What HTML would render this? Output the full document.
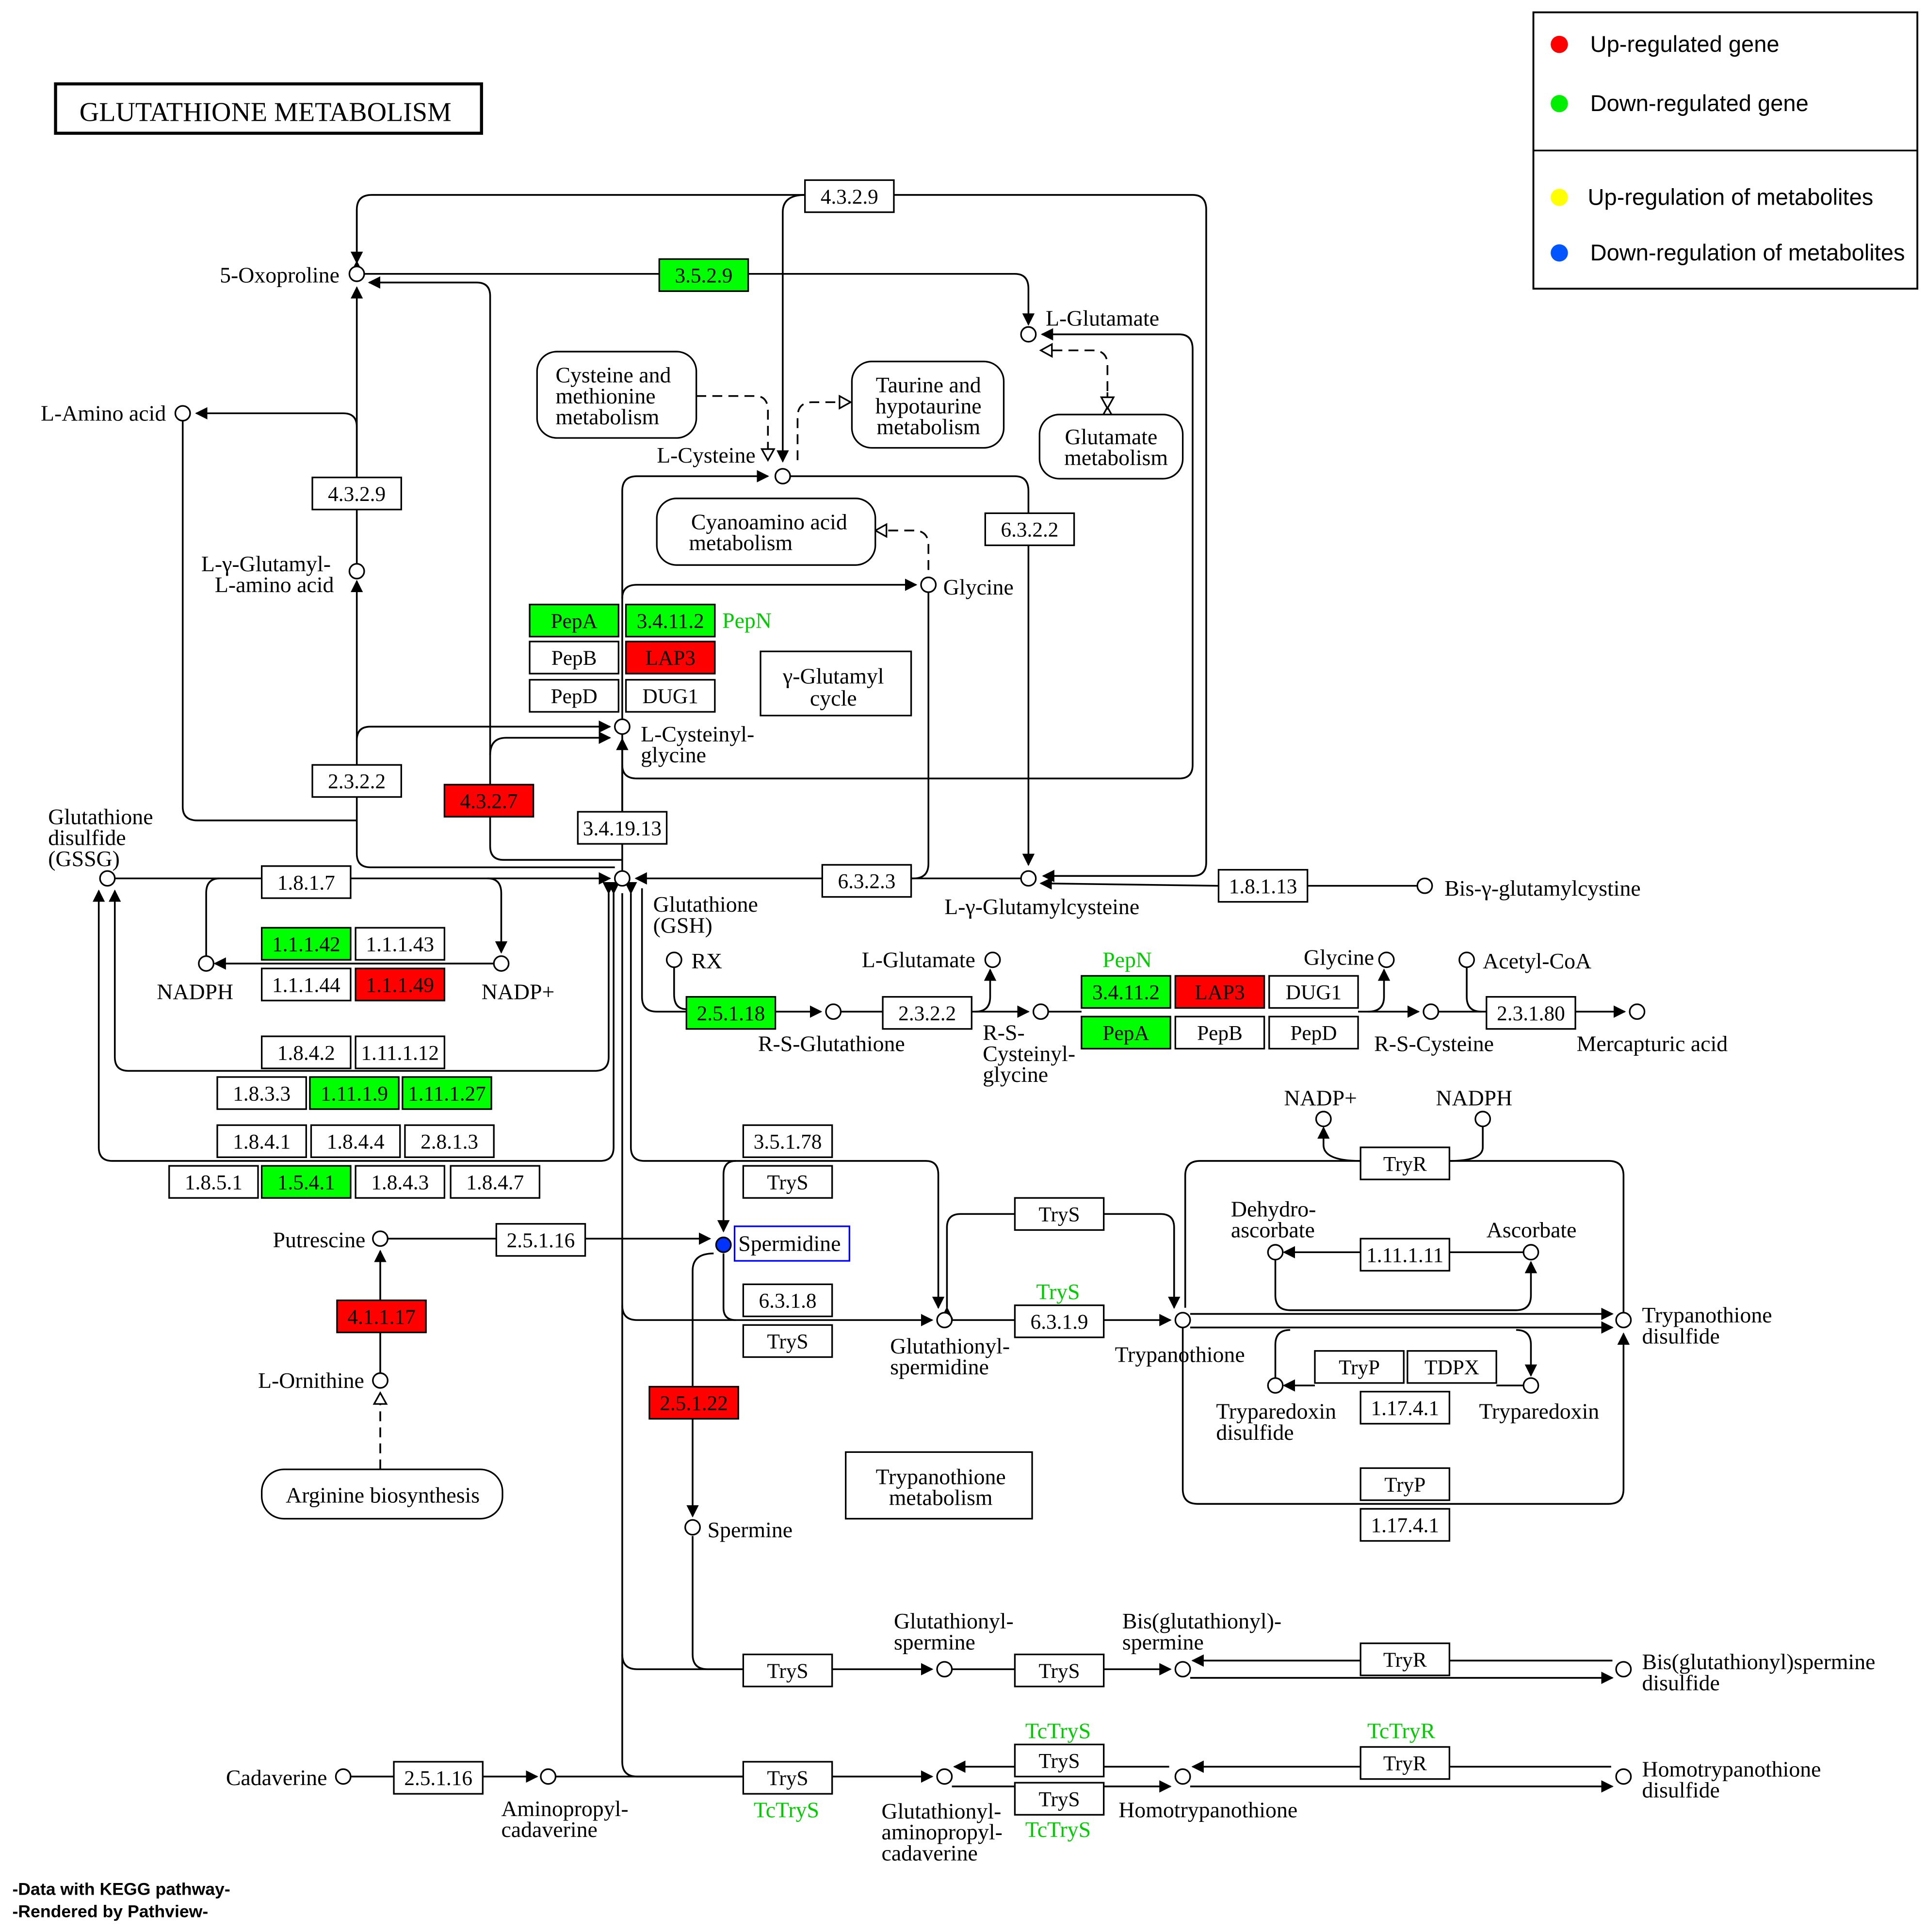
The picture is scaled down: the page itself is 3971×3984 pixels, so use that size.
<!DOCTYPE html>
<html><head><meta charset="utf-8"><style>
html,body{margin:0;padding:0;background:#fff}
svg{display:block}
text{font-family:"Liberation Serif",serif;font-size:18px;fill:#000}
.e text{text-anchor:middle;font-size:17px}
text.m{text-anchor:middle}
.s{font-family:"Liberation Sans",sans-serif}
path,line{fill:none;stroke:#000;stroke-width:1.4}
.b{fill:#fff;stroke:#000;stroke-width:1.3}
.g{fill:#00ff00}.r{fill:#ff0000}
.c{fill:#fff;stroke:#000;stroke-width:1.3}
.d{stroke-dasharray:8,5}
.gt{fill:#00cc00}
</style></head><body>
<svg width="3971" height="3984" viewBox="0 0 1560 1566" preserveAspectRatio="none" xmlns="http://www.w3.org/2000/svg">
<defs>
<marker id="a" markerWidth="10" markerHeight="10" refX="9" refY="5" orient="auto" markerUnits="userSpaceOnUse"><path d="M0,0 L10,5 L0,10 Z" style="fill:#000;stroke:none"/></marker>
<marker id="o" markerWidth="12" markerHeight="12" refX="10" refY="6" orient="auto" markerUnits="userSpaceOnUse"><path d="M1,1 L10,6 L1,11 Z" style="fill:#fff;stroke:#000;stroke-width:1.3"/></marker>
</defs>
<rect width="1560" height="1566" fill="#fff"/>
<!-- title -->
<rect x="45" y="68" width="345" height="40" style="fill:#fff;stroke:#000;stroke-width:2.5"/>
<text x="215" y="98" class="m" style="font-size:22px">GLUTATHIONE  METABOLISM</text>
<!-- legend -->
<rect x="1242" y="10" width="311" height="224" style="fill:#fff;stroke:#000;stroke-width:1.5"/>
<line x1="1242" y1="122" x2="1553" y2="122"/>
<circle cx="1263" cy="36" r="7" fill="#ff0000"/><text x="1288" y="42" class="s" style="font-size:18.5px">Up-regulated gene</text>
<circle cx="1263" cy="84" r="7" fill="#00ee00"/><text x="1288" y="90" class="s" style="font-size:18.5px">Down-regulated gene</text>
<circle cx="1263" cy="160" r="7" fill="#ffff00"/><text x="1286" y="166" class="s" style="font-size:18.5px">Up-regulation of metabolites</text>
<circle cx="1263" cy="205" r="7" fill="#0055ff"/><text x="1288" y="211" class="s" style="font-size:18.5px">Down-regulation of metabolites</text>

<!-- lines -->
<path d="M289,212 L289,170 Q289,158 301,158 L652,158" marker-start="url(#a)"/>
<path d="M289,170 L289,213" marker-end="url(#a)"/>
<path d="M724,158 L966,158 Q977,158 977,170 L977,699 Q977,710 966,710 L845,710" marker-end="url(#a)"/>
<path d="M652,158 Q634,158 634,172 L634,374" marker-end="url(#a)"/>
<path d="M295,222 L534,222"/>
<path d="M606,222 L822,222 Q833,222 833,234 L833,263" marker-end="url(#a)"/>
<path d="M504,697 L408,697 Q397,697 397,686 L397,240 Q397,229 386,229 L299,229" marker-end="url(#a)"/>
<path d="M397,612 Q397,598 410,598 L494,598" marker-end="url(#a)"/>
<path d="M289,387 L289,346 Q289,335 278,335 L159,335" marker-end="url(#a)"/>
<path d="M289,387 L289,233" marker-end="url(#a)"/>
<path d="M289,457 L289,413"/>
<path d="M498,703 L300,703 Q289,703 289,692 L289,471" marker-end="url(#a)"/>
<path d="M289,600 Q289,589 300,589 L494,589" marker-end="url(#a)"/>
<path d="M148,341 L148,654 Q148,665 160,665 L289,665"/>
<path d="M504,706 L504,398 Q504,386 516,386 L622,386" marker-end="url(#a)"/>
<path d="M640,386 L822,386 Q833,386 833,398 L833,701" marker-end="url(#a)"/>
<path d="M504,684 L504,599" marker-end="url(#a)"/>
<path d="M504,485 Q504,474 516,474 L742,474" marker-end="url(#a)"/>
<path d="M752,480 L752,700 Q752,712 740,712 L738,712"/>
<path d="M827,712 L738,712"/>
<path d="M666,712 L515,712" marker-end="url(#a)"/>
<path d="M504,620 Q504,631 516,631 L955,631 Q966,631 966,620 L966,283 Q966,271 955,271 L844,271" marker-end="url(#a)"/>
<path d="M1148,718 L1059,718"/><path d="M987,718 L843,716" marker-end="url(#a)"/>
<!-- dashed -->
<path class="d" d="M564,321 L612,321 Q622,321 622,333 L622,373" marker-end="url(#o)"/>
<path class="d" d="M646,373 L646,338 Q646,326 658,326 L689,326" marker-end="url(#o)"/>
<path class="d" d="M897,330 L897,296 Q897,284 885,284 L843,284" marker-start="url(#o)" marker-end="url(#o)"/>
<path d="M897,318 L897,331" marker-end="url(#o)"/>
<path class="d" d="M752,462 L752,442 Q752,430 740,430 L709,430" marker-end="url(#o)"/>
<!-- GSSG/GSH -->
<path d="M93,712 L212,712"/><path d="M284,712 L494,712" marker-end="url(#a)"/>
<path d="M178,712 Q167,712 167,724 L167,775"/>
<path d="M395,712 Q406,712 406,724 L406,772" marker-end="url(#a)"/>
<path d="M400,781 L174,781" marker-end="url(#a)"/>
<path d="M493,724 L493,857 Q493,868 482,868 L104,868 Q93,868 93,857 L93,722" marker-start="url(#a)" marker-end="url(#a)"/>
<path d="M497,724 L497,930 Q497,941 486,941 L91,941 Q80,941 80,930 L80,722" marker-start="url(#a)" marker-end="url(#a)"/>
<path d="M511,724 L511,930 Q511,941 522,941 L750,941 Q760,941 760,952 L760,1060" marker-start="url(#a)" marker-end="url(#a)"/>
<path d="M520,720 L520,808 Q520,820 532,820 L556,820"/>
<path d="M546,784 L546,806 Q546,818 556,818"/>
<path d="M628,820 L665,820" marker-end="url(#a)"/>
<path d="M681,820 L715,820"/><path d="M787,820 L833,820" marker-end="url(#a)"/>
<path d="M790,820 Q802,820 802,808 L802,786" marker-end="url(#a)"/>
<path d="M849,820 L876,820"/><path d="M1100,820 L1149,820" marker-end="url(#a)"/>
<path d="M1108,820 Q1121,820 1121,808 L1121,786" marker-end="url(#a)"/>
<path d="M1188,784 L1188,808 Q1188,820 1200,820"/>
<path d="M1165,820 L1204,820"/><path d="M1276,820 L1316,820" marker-end="url(#a)"/>
<!-- 504 vertical -->
<path d="M504,724 L504,1428 Q504,1440 516,1440 L602,1440"/>
<path d="M504,1058 Q504,1070 516,1070 L755,1070" marker-end="url(#a)"/>
<path d="M504,1341 Q504,1353 516,1353 L602,1353"/>
<path d="M596,941 Q586,941 586,952 L586,998" marker-end="url(#a)"/>
<path d="M314,1004 L402,1004"/><path d="M474,1004 L575,1004" marker-end="url(#a)"/>
<path d="M586,1016 L586,1060 Q586,1070 596,1070"/>
<path d="M578,1016 Q561,1016 561,1030 L561,1229" marker-end="url(#a)"/>
<path d="M561,1245 L561,1341 Q561,1353 573,1353 L602,1353"/>
<path d="M674,1353 L755,1353" marker-end="url(#a)"/>
<path d="M771,1353 L822,1353"/><path d="M894,1353 L948,1353" marker-end="url(#a)"/>
<path d="M964,1360 L1306,1360" marker-end="url(#a)"/>
<path d="M1306,1346 L1174,1346"/><path d="M1102,1346 L966,1346" marker-end="url(#a)"/>
<path d="M308,1113 L308,1014" marker-end="url(#a)"/>
<path class="d" d="M308,1191 L308,1129" marker-end="url(#o)"/>
<path d="M771,1070 L822,1070"/><path d="M894,1070 L948,1070" marker-end="url(#a)"/>
<path d="M767,1060 L767,995 Q767,984 778,984 L822,984" marker-start="url(#a)"/>
<path d="M894,984 L940,984 Q951,984 951,995 L951,1060" marker-end="url(#a)"/>
<path d="M964,1065 L1306,1065" marker-end="url(#a)"/>
<path d="M964,1076 L1306,1076" marker-end="url(#a)"/>
<path d="M960,1060 L960,953 Q960,941 972,941 L1102,941"/>
<path d="M1174,941 L1303,941 Q1315,941 1315,953 L1315,1064"/>
<path d="M958,1076 L958,1207 Q958,1219 970,1219 L1303,1219 Q1315,1219 1315,1207 L1315,1081" marker-end="url(#a)"/>
<path d="M1102,941 Q1072,941 1072,928 L1072,914" marker-end="url(#a)"/>
<path d="M1201,913 L1201,930 Q1201,941 1174,941"/>
<path d="M1234,1015 L1174,1015"/><path d="M1102,1015 L1040,1015" marker-end="url(#a)"/>
<path d="M1033,1021 L1033,1050 Q1033,1062 1045,1062 L1228,1062 Q1240,1062 1240,1050 L1240,1023" marker-end="url(#a)"/>
<path d="M1234,1123 L1212,1123"/><path d="M1065,1123 L1040,1123" marker-end="url(#a)"/>
<path d="M1045,1078 Q1033,1078 1033,1090 L1033,1117"/>
<path d="M1228,1078 Q1240,1078 1240,1090 L1240,1115" marker-end="url(#a)"/>
<path d="M284,1440 L319,1440"/><path d="M391,1440 L435,1440" marker-end="url(#a)"/>
<path d="M450,1440 L602,1440"/><path d="M674,1440 L755,1440" marker-end="url(#a)"/>
<path d="M947,1432 L894,1432"/><path d="M822,1432 L773,1432" marker-end="url(#a)"/>
<path d="M771,1448 L822,1448"/><path d="M894,1448 L948,1448" marker-end="url(#a)"/>
<path d="M1305,1432 L1174,1432"/><path d="M1102,1432 L966,1432" marker-end="url(#a)"/>
<path d="M964,1448 L1306,1448" marker-end="url(#a)"/>

<!-- pathway boxes -->
<rect x="435" y="285" width="129" height="70" rx="16" class="b"/>
<text x="450" y="310">Cysteine and</text><text x="450" y="327">methionine</text><text x="450" y="344">metabolism</text>
<rect x="690" y="293" width="123" height="70" rx="16" class="b"/>
<text x="752" y="318" class="m">Taurine and</text><text x="752" y="335" class="m">hypotaurine</text><text x="752" y="352" class="m">metabolism</text>
<rect x="842" y="336" width="116" height="52" rx="16" class="b"/>
<text x="900" y="360" class="m">Glutamate</text><text x="904" y="377" class="m">metabolism</text>
<rect x="532" y="404" width="177" height="54" rx="16" class="b"/>
<text x="623" y="429" class="m">Cyanoamino acid</text><text x="600" y="446" class="m">metabolism</text>
<rect x="212" y="1191" width="195" height="40" rx="18" class="b"/>
<text x="310" y="1218" class="m">Arginine biosynthesis</text>
<rect x="616" y="528" width="122" height="52" class="b"/>
<text x="675" y="554" class="m">γ-Glutamyl</text><text x="675" y="572" class="m">cycle</text>
<rect x="685" y="1177" width="151" height="54" class="b"/>
<text x="762" y="1203" class="m">Trypanothione</text><text x="762" y="1220" class="m">metabolism</text>

<!-- enzyme boxes -->
<g class="e">
<rect x="652" y="146" width="72" height="26" class="b"/><text x="688" y="165">4.3.2.9</text>
<rect x="534" y="210" width="72" height="26" class="b g"/><text x="570" y="229">3.5.2.9</text>
<rect x="253" y="387" width="72" height="26" class="b"/><text x="289" y="406">4.3.2.9</text>
<rect x="253" y="620" width="72" height="26" class="b"/><text x="289" y="639">2.3.2.2</text>
<rect x="360" y="636" width="72" height="26" class="b r"/><text x="396" y="655">4.3.2.7</text>
<rect x="468" y="658" width="72" height="26" class="b"/><text x="504" y="677">3.4.19.13</text>
<rect x="798" y="416" width="72" height="26" class="b"/><text x="834" y="435">6.3.2.2</text>
<rect x="666" y="701" width="72" height="26" class="b"/><text x="702" y="720">6.3.2.3</text>
<rect x="987" y="705" width="72" height="26" class="b"/><text x="1023" y="724">1.8.1.13</text>
<rect x="429" y="490" width="72" height="26" class="b g"/><text x="465" y="509">PepA</text>
<rect x="507" y="490" width="72" height="26" class="b g"/><text x="543" y="509">3.4.11.2</text>
<rect x="429" y="520" width="72" height="26" class="b"/><text x="465" y="539">PepB</text>
<rect x="507" y="520" width="72" height="26" class="b r"/><text x="543" y="539">LAP3</text>
<rect x="429" y="551" width="72" height="26" class="b"/><text x="465" y="570">PepD</text>
<rect x="507" y="551" width="72" height="26" class="b"/><text x="543" y="570">DUG1</text>
<rect x="212" y="702" width="72" height="26" class="b"/><text x="248" y="721">1.8.1.7</text>
<rect x="212" y="752" width="72" height="26" class="b g"/><text x="248" y="771">1.1.1.42</text>
<rect x="288" y="752" width="72" height="26" class="b"/><text x="324" y="771">1.1.1.43</text>
<rect x="212" y="785" width="72" height="26" class="b"/><text x="248" y="804">1.1.1.44</text>
<rect x="288" y="785" width="72" height="26" class="b r"/><text x="324" y="804">1.1.1.49</text>
<rect x="212" y="840" width="72" height="26" class="b"/><text x="248" y="859">1.8.4.2</text>
<rect x="288" y="840" width="72" height="26" class="b"/><text x="324" y="859">1.11.1.12</text>
<rect x="176" y="873" width="72" height="26" class="b"/><text x="212" y="892">1.8.3.3</text>
<rect x="251" y="873" width="72" height="26" class="b g"/><text x="287" y="892">1.11.1.9</text>
<rect x="326" y="873" width="72" height="26" class="b g"/><text x="362" y="892">1.11.1.27</text>
<rect x="176" y="912" width="72" height="26" class="b"/><text x="212" y="931">1.8.4.1</text>
<rect x="252" y="912" width="72" height="26" class="b"/><text x="288" y="931">1.8.4.4</text>
<rect x="328" y="912" width="72" height="26" class="b"/><text x="364" y="931">2.8.1.3</text>
<rect x="137" y="945" width="72" height="26" class="b"/><text x="173" y="964">1.8.5.1</text>
<rect x="212" y="945" width="72" height="26" class="b g"/><text x="248" y="964">1.5.4.1</text>
<rect x="288" y="945" width="72" height="26" class="b"/><text x="324" y="964">1.8.4.3</text>
<rect x="365" y="945" width="72" height="26" class="b"/><text x="401" y="964">1.8.4.7</text>
<rect x="556" y="808" width="72" height="26" class="b g"/><text x="592" y="827">2.5.1.18</text>
<rect x="715" y="808" width="72" height="26" class="b"/><text x="751" y="827">2.3.2.2</text>
<rect x="876" y="791" width="72" height="26" class="b g"/><text x="912" y="810">3.4.11.2</text>
<rect x="952" y="791" width="72" height="26" class="b r"/><text x="988" y="810">LAP3</text>
<rect x="1028" y="791" width="72" height="26" class="b"/><text x="1064" y="810">DUG1</text>
<rect x="876" y="824" width="72" height="26" class="b g"/><text x="912" y="843">PepA</text>
<rect x="952" y="824" width="72" height="26" class="b"/><text x="988" y="843">PepB</text>
<rect x="1028" y="824" width="72" height="26" class="b"/><text x="1064" y="843">PepD</text>
<rect x="1204" y="808" width="72" height="26" class="b"/><text x="1240" y="827">2.3.1.80</text>
<rect x="602" y="912" width="72" height="26" class="b"/><text x="638" y="931">3.5.1.78</text>
<rect x="602" y="945" width="72" height="26" class="b"/><text x="638" y="964">TryS</text>
<rect x="402" y="992" width="72" height="26" class="b"/><text x="438" y="1011">2.5.1.16</text>
<rect x="602" y="1041" width="72" height="26" class="b"/><text x="638" y="1060">6.3.1.8</text>
<rect x="602" y="1074" width="72" height="26" class="b"/><text x="638" y="1093">TryS</text>
<rect x="273" y="1054" width="72" height="26" class="b r"/><text x="309" y="1073">4.1.1.17</text>
<rect x="526" y="1124" width="72" height="26" class="b r"/><text x="562" y="1143">2.5.1.22</text>
<rect x="822" y="971" width="72" height="26" class="b"/><text x="858" y="990">TryS</text>
<rect x="822" y="1058" width="72" height="26" class="b"/><text x="858" y="1077">6.3.1.9</text>
<rect x="1102" y="930" width="72" height="26" class="b"/><text x="1138" y="949">TryR</text>
<rect x="1102" y="1004" width="72" height="26" class="b"/><text x="1138" y="1023">1.11.1.11</text>
<rect x="1065" y="1095" width="72" height="26" class="b"/><text x="1101" y="1114">TryP</text>
<rect x="1140" y="1095" width="72" height="26" class="b"/><text x="1176" y="1114">TDPX</text>
<rect x="1102" y="1128" width="72" height="26" class="b"/><text x="1138" y="1147">1.17.4.1</text>
<rect x="1102" y="1190" width="72" height="26" class="b"/><text x="1138" y="1209">TryP</text>
<rect x="1102" y="1223" width="72" height="26" class="b"/><text x="1138" y="1242">1.17.4.1</text>
<rect x="602" y="1341" width="72" height="26" class="b"/><text x="638" y="1360">TryS</text>
<rect x="822" y="1341" width="72" height="26" class="b"/><text x="858" y="1360">TryS</text>
<rect x="1102" y="1332" width="72" height="26" class="b"/><text x="1138" y="1351">TryR</text>
<rect x="822" y="1414" width="72" height="26" class="b"/><text x="858" y="1433">TryS</text>
<rect x="822" y="1445" width="72" height="26" class="b"/><text x="858" y="1464">TryS</text>
<rect x="1102" y="1416" width="72" height="26" class="b"/><text x="1138" y="1435">TryR</text>
<rect x="319" y="1428" width="72" height="26" class="b"/><text x="355" y="1447">2.5.1.16</text>
<rect x="602" y="1428" width="72" height="26" class="b"/><text x="638" y="1447">TryS</text>
</g>
<text x="585" y="509" class="gt">PepN</text>
<text x="913" y="784" class="m gt">PepN</text>
<text x="857" y="1053" class="m gt">TryS</text>
<text x="857" y="1409" class="m gt">TcTryS</text>
<text x="857" y="1489" class="m gt">TcTryS</text>
<text x="1135" y="1409" class="m gt">TcTryR</text>
<text x="637" y="1473" class="m gt">TcTryS</text>

<!-- spermidine box -->
<rect x="595" y="994" width="93" height="28" style="fill:#fff;stroke:#0000ff;stroke-width:1.3"/>
<text x="598" y="1014">Spermidine</text>

<!-- compounds -->
<g>
<circle cx="289" cy="222" r="6" class="c"/><circle cx="833" cy="271" r="6" class="c"/>
<circle cx="634" cy="386" r="6" class="c"/><circle cx="148" cy="335" r="6" class="c"/>
<circle cx="289" cy="463" r="6" class="c"/><circle cx="752" cy="474" r="6" class="c"/>
<circle cx="504" cy="589" r="6" class="c"/><circle cx="87" cy="712" r="6" class="c"/>
<circle cx="504" cy="712" r="6" class="c"/><circle cx="833" cy="712" r="6" class="c"/>
<circle cx="1154" cy="718" r="6" class="c"/><circle cx="167" cy="781" r="6" class="c"/>
<circle cx="406" cy="781" r="6" class="c"/><circle cx="546" cy="778" r="6" class="c"/>
<circle cx="804" cy="778" r="6" class="c"/><circle cx="1123" cy="778" r="6" class="c"/>
<circle cx="1188" cy="778" r="6" class="c"/><circle cx="675" cy="820" r="6" class="c"/>
<circle cx="843" cy="820" r="6" class="c"/><circle cx="1159" cy="820" r="6" class="c"/>
<circle cx="1326" cy="820" r="6" class="c"/><circle cx="1072" cy="907" r="6" class="c"/>
<circle cx="1201" cy="907" r="6" class="c"/><circle cx="308" cy="1004" r="6" class="c"/>
<circle cx="586" cy="1009" r="6" style="fill:#0033ff;stroke:#000;stroke-width:1.3"/>
<circle cx="1033" cy="1015" r="6" class="c"/><circle cx="1240" cy="1015" r="6" class="c"/>
<circle cx="308" cy="1119" r="6" class="c"/><circle cx="765" cy="1070" r="6" class="c"/>
<circle cx="958" cy="1070" r="6" class="c"/><circle cx="1315" cy="1070" r="6" class="c"/>
<circle cx="1033" cy="1123" r="6" class="c"/><circle cx="1240" cy="1123" r="6" class="c"/>
<circle cx="561" cy="1238" r="6" class="c"/><circle cx="765" cy="1353" r="6" class="c"/>
<circle cx="958" cy="1353" r="6" class="c"/><circle cx="1315" cy="1353" r="6" class="c"/>
<circle cx="278" cy="1440" r="6" class="c"/><circle cx="444" cy="1440" r="6" class="c"/>
<circle cx="765" cy="1440" r="6" class="c"/><circle cx="958" cy="1440" r="6" class="c"/>
<circle cx="1315" cy="1440" r="6" class="c"/>
</g>

<!-- compound labels -->
<text x="178" y="229">5-Oxoproline</text>
<text x="847" y="264">L-Glutamate</text>
<text x="532" y="375">L-Cysteine</text>
<text x="33" y="341">L-Amino acid</text>
<text x="163" y="463">L-γ-Glutamyl-</text><text x="174" y="480">L-amino acid</text>
<text x="764" y="482">Glycine</text>
<text x="519" y="601">L-Cysteinyl-</text><text x="519" y="618">glycine</text>
<text x="39" y="668">Glutathione</text><text x="39" y="685">disulfide</text><text x="39" y="702">(GSSG)</text>
<text x="529" y="739">Glutathione</text><text x="529" y="756">(GSH)</text>
<text x="765" y="741">L-γ-Glutamylcysteine</text>
<text x="1170" y="726">Bis-γ-glutamylcystine</text>
<text x="127" y="810">NADPH</text><text x="390" y="810">NADP+</text>
<text x="560" y="785">RX</text>
<text x="698" y="784">L-Glutamate</text>
<text x="1056" y="782">Glycine</text>
<text x="1201" y="785">Acetyl-CoA</text>
<text x="614" y="852">R-S-Glutathione</text>
<text x="796" y="843">R-S-</text><text x="796" y="860">Cysteinyl-</text><text x="796" y="877">glycine</text>
<text x="1113" y="852">R-S-Cysteine</text>
<text x="1277" y="852">Mercapturic acid</text>
<text x="1040" y="896">NADP+</text><text x="1163" y="896">NADPH</text>
<text x="221" y="1011">Putrescine</text>
<text x="997" y="986">Dehydro-</text><text x="997" y="1003">ascorbate</text>
<text x="1204" y="1003">Ascorbate</text>
<text x="209" y="1125">L-Ornithine</text>
<text x="721" y="1097">Glutathionyl-</text><text x="721" y="1114">spermidine</text>
<text x="903" y="1104">Trypanothione</text>
<text x="1330" y="1072">Trypanothione</text><text x="1330" y="1089">disulfide</text>
<text x="985" y="1150">Tryparedoxin</text><text x="985" y="1167">disulfide</text>
<text x="1198" y="1150">Tryparedoxin</text>
<text x="573" y="1246">Spermine</text>
<text x="724" y="1320">Glutathionyl-</text><text x="724" y="1337">spermine</text>
<text x="909" y="1320">Bis(glutathionyl)-</text><text x="909" y="1337">spermine</text>
<text x="1330" y="1353">Bis(glutathionyl)spermine</text><text x="1330" y="1370">disulfide</text>
<text x="183" y="1447">Cadaverine</text>
<text x="406" y="1472">Aminopropyl-</text><text x="406" y="1489">cadaverine</text>
<text x="714" y="1474">Glutathionyl-</text><text x="714" y="1491">aminopropyl-</text><text x="714" y="1508">cadaverine</text>
<text x="906" y="1473">Homotrypanothione</text>
<text x="1330" y="1440">Homotrypanothione</text><text x="1330" y="1457">disulfide</text>

<text x="10" y="1536" class="s" style="font-size:14px;font-weight:bold">-Data with KEGG pathway-</text>
<text x="10" y="1554" class="s" style="font-size:14px;font-weight:bold">-Rendered  by  Pathview-</text>
</svg>
</body></html>
